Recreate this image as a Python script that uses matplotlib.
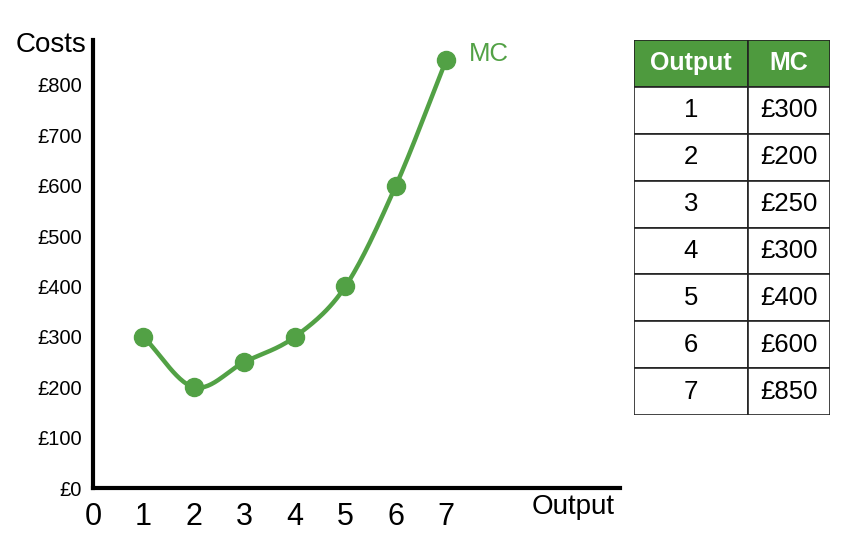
import numpy as np
import matplotlib.pyplot as plt
from matplotlib.patches import Rectangle

plt.rcParams['font.family'] = ['Liberation Sans', 'DejaVu Sans']

# data
output = [1, 2, 3, 4, 5, 6, 7]
mc = [300, 200, 250, 300, 400, 600, 850]
x_ticks = [0, 1, 2, 3, 4, 5, 6, 7]
y_ticks = [0, 100, 200, 300, 400, 500, 600, 700, 800]
y_labels = ['£0', '£100', '£200', '£300', '£400', '£500', '£600', '£700', '£800']
table_head = ['Output', 'MC']
table_mc = ['£300', '£200', '£250', '£300', '£400', '£600', '£850']

green = '#52a145'
head_green = '#4e9a3e'


def smooth(xs, ys, n=30):
    # catmull-rom curve through the given points, only for drawing the line
    xs = np.asarray(xs, float)
    ys = np.asarray(ys, float)
    px = np.concatenate([[2 * xs[0] - xs[1]], xs, [2 * xs[-1] - xs[-2]]])
    py = np.concatenate([[2 * ys[0] - ys[1]], ys, [2 * ys[-1] - ys[-2]]])
    outx, outy = [], []
    for i in range(1, len(px) - 2):
        t = np.linspace(0, 1, n)
        for p, out in ((px, outx), (py, outy)):
            p0, p1, p2, p3 = p[i - 1], p[i], p[i + 1], p[i + 2]
            out.extend(0.5 * (2 * p1 + (-p0 + p2) * t
                              + (2 * p0 - 5 * p1 + 4 * p2 - p3) * t ** 2
                              + (-p0 + 3 * p1 - 3 * p2 + p3) * t ** 3))
    return np.array(outx), np.array(outy)


fig = plt.figure(figsize=(8.54, 5.54), dpi=100)

# main chart
ax = fig.add_axes([93 / 854, 66 / 554, 527 / 854, 448 / 554])
sx, sy = smooth(output, mc)
ax.plot(sx, sy, color=green, linewidth=3.2, solid_capstyle='round', zorder=2)
ax.plot(output, mc, 'o', color=green, markersize=13, zorder=3)
ax.text(output[-1] + 0.45, mc[-1] + 12, 'MC', color=green, fontsize=18.5, va='center')

ax.set_xlim(0, 10.44)
ax.set_ylim(0, 889)
for s in ['top', 'right']:
    ax.spines[s].set_visible(False)
for s in ['left', 'bottom']:
    ax.spines[s].set_linewidth(3)
ax.set_xticks(x_ticks)
ax.set_xticklabels([str(v) for v in x_ticks], fontsize=22)
ax.set_yticks(y_ticks)
ax.set_yticklabels(y_labels, fontsize=14.5)
ax.tick_params(axis='both', length=0)
ax.tick_params(axis='x', pad=10)
ax.tick_params(axis='y', pad=8)
ax.text(-0.013, 0.989, 'Costs', transform=ax.transAxes, fontsize=20,
        ha='right', va='center')
ax.text(0.99, -0.043, 'Output', transform=ax.transAxes, fontsize=20,
        ha='right', va='center')

# table on the right
tx = fig.add_axes([634 / 854, 139 / 554, 196 / 854, 375 / 554])
tx.set_xlim(0, 196)
tx.set_ylim(375, 0)
tx.axis('off')
col_w = [114, 82]
row_h = 375 / 8
x0 = 0
for j, head in enumerate(table_head):
    tx.add_patch(Rectangle((x0, 0), col_w[j], row_h, facecolor=head_green,
                           edgecolor='#222222', linewidth=1.2))
    tx.text(x0 + col_w[j] / 2, row_h / 2, head, color='white', fontsize=18,
            fontweight='bold', ha='center', va='center')
    x0 += col_w[j]
for i, (o, m) in enumerate(zip(output, table_mc)):
    y = (i + 1) * row_h
    tx.add_patch(Rectangle((0, y), col_w[0], row_h, facecolor='white',
                           edgecolor='#222222', linewidth=1.2))
    tx.add_patch(Rectangle((col_w[0], y), col_w[1], row_h, facecolor='white',
                           edgecolor='#222222', linewidth=1.2))
    tx.text(col_w[0] / 2, y + row_h / 2, str(o), fontsize=18.5,
            ha='center', va='center')
    tx.text(col_w[0] + col_w[1] / 2, y + row_h / 2, m, fontsize=18.5,
            ha='center', va='center')

fig.savefig('out.png', dpi=100)
